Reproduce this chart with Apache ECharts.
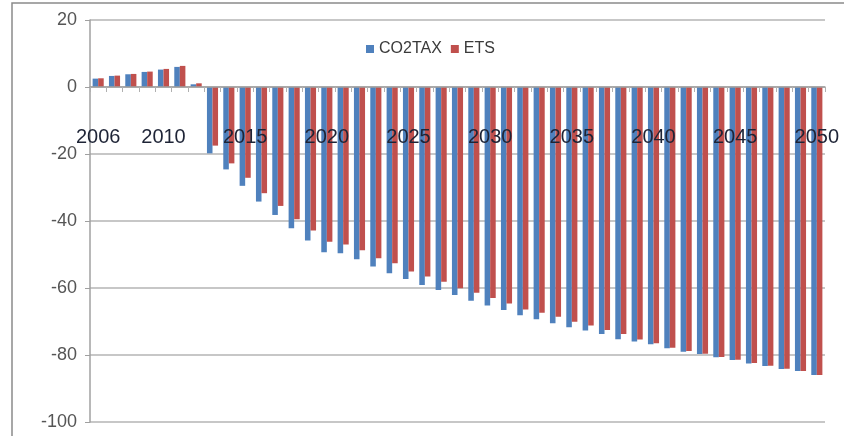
<!DOCTYPE html>
<html>
<head>
<meta charset="utf-8">
<script src="https://cdn.jsdelivr.net/npm/echarts@6/dist/echarts.min.js"></script>
<style>
  html, body { margin: 0; padding: 0; background: #fff; }
  #chart { width: 844px; height: 436px; }
</style>
</head>
<body>
<div id="chart"></div>
<script>
// Years on the category axis
const years = [];
for (let y = 2006; y <= 2050; y++) years.push(String(y));

// Change per year, CO2 tax scenario
const co2tax = [2.5, 3.3, 3.8, 4.5, 5.2, 6.0, 0.8,
  -19.8, -24.6, -29.5, -34.2, -38.2, -42.2, -45.8, -49.3,
  -49.6, -51.4, -53.6, -55.6, -57.3, -59.1, -60.6, -62.1, -63.8, -65.2,
  -66.6, -68.1, -69.3, -70.5, -71.7, -72.7, -73.7, -75.3, -76.0, -76.8,
  -78.0, -79.0, -79.7, -80.7, -81.5, -82.5, -83.3, -84.2, -84.8, -86.0];

// Change per year, emissions trading scenario
const ets = [2.6, 3.4, 3.9, 4.6, 5.4, 6.3, 1.1,
  -17.5, -22.8, -27.1, -31.7, -35.5, -39.5, -42.8, -46.2,
  -47.0, -48.7, -51.1, -52.6, -55.1, -56.6, -58.1, -60.1, -61.4, -63.0,
  -64.6, -66.4, -67.4, -68.6, -70.1, -71.2, -72.5, -73.7, -75.4, -76.5,
  -77.8, -78.8, -79.6, -80.6, -81.4, -82.4, -83.2, -84.1, -84.8, -86.0];

// Value axis ticks
const yTicks = [-100, -80, -60, -40, -20, 0, 20];

const sans = '"Liberation Sans", Arial, sans-serif';

const chart = echarts.init(document.getElementById('chart'), null, { renderer: 'canvas' });
chart.setOption({
  animation: false,
  backgroundColor: '#ffffff',
  graphic: [{
    type: 'rect',
    shape: { x: 12, y: 3, width: 900, height: 500 },
    style: { fill: 'none', stroke: '#8a8a8a', lineWidth: 1.5 },
    silent: true, z: -1
  }],
  grid: {
    left: 90, right: 19, top: 20, bottom: 14,
    containLabel: false,
    outerBoundsMode: 'none'
  },
  legend: {
    left: 361, top: 36,
    itemWidth: 8, itemHeight: 8, itemGap: 9,
    icon: 'rect',
    textStyle: { fontFamily: sans, fontSize: 16, color: '#3a3a3a' },
    data: ['CO2TAX', 'ETS']
  },
  xAxis: {
    type: 'category',
    data: years,
    z: 5,
    offset: 0,
    axisLine: { onZero: false, lineStyle: { color: '#a0a0a0', width: 1.5 } },
    axisTick: {
      show: true, length: 5, interval: 0,
      lineStyle: { color: '#b0b0b0' }
    },
    axisLabel: {
      interval: function (i, v) { return i === 0 || Number(v) % 5 === 0; },
      margin: 40,
      fontFamily: sans,
      fontSize: 20,
      color: '#1e2436'
    },
    splitLine: { show: false }
  },
  yAxis: {
    type: 'value',
    min: yTicks[0],
    max: yTicks[yTicks.length - 1],
    interval: 20,
    axisLine: { show: true, lineStyle: { color: '#a0a0a0', width: 1.5 } },
    axisTick: { show: true, length: 5, lineStyle: { color: '#a0a0a0' } },
    axisLabel: {
      margin: 13,
      fontFamily: sans,
      fontSize: 18,
      color: '#555555'
    },
    splitLine: { show: true, lineStyle: { color: '#b4b4b4', width: 1.5 } }
  },
  series: [
    {
      name: 'CO2TAX',
      type: 'bar',
      data: co2tax,
      itemStyle: { color: '#4f81bd' },
      barGap: '0%',
      barCategoryGap: '32%'
    },
    {
      name: 'ETS',
      type: 'bar',
      data: ets,
      itemStyle: { color: '#c0504d' },
      barGap: '0%',
      barCategoryGap: '32%'
    }
  ]
});

// Lift the category axis (line, ticks, labels) up to the zero line of the value axis
const zeroY = chart.convertToPixel({ yAxisIndex: 0 }, 0);
const bottomY = chart.convertToPixel({ yAxisIndex: 0 }, yTicks[0]);
chart.setOption({ xAxis: { offset: zeroY - bottomY } });
</script>
</body>
</html>
